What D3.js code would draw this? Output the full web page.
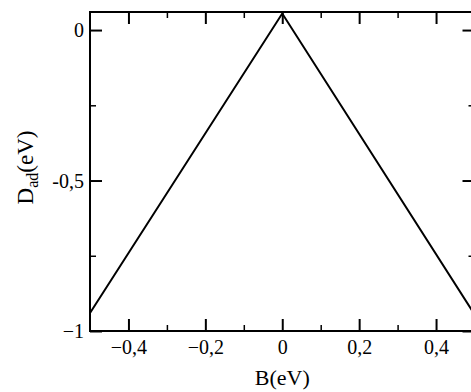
<!DOCTYPE html>
<html>
<head>
<meta charset="utf-8">
<script src="https://cdn.jsdelivr.net/npm/d3@7"></script>
<style>
  html, body { margin: 0; padding: 0; background: #fff; overflow: hidden; }
  svg { display: block; }
</style>
</head>
<body>
<svg id="chart" width="471" height="392"></svg>
<script>
// Adsorption energy D_ad as a function of B
const bValues = [-0.5, 0, 0.5];
const dValues = [-0.94, 0.055, -0.945];

const xMajorTicks = [-0.4, -0.2, 0, 0.2, 0.4];
const xMinorTicks = [-0.3, -0.1, 0.1, 0.3];
const xTickLabels = ["\u22120,4", "\u22120,2", "0", "0,2", "0,4"];

const yMajorTicks = [0, -0.5, -1];
const yMinorTicks = [-0.25, -0.75];
const yTickLabels = ["0", "-0,5", "\u22121"];

const xDomain = [-0.5, 0.5];
const yDomain = [-1, 0.06];

const SERIF = "'Liberation Serif', 'Times New Roman', 'DejaVu Serif', serif";
const frame = { left: 90, right: 474.5, top: 12, bottom: 331 };

const svg = d3.select("#chart");

const x = d3.scaleLinear().domain(xDomain).range([frame.left, frame.right]);
const y = d3.scaleLinear().domain(yDomain).range([frame.bottom, frame.top]);

const majorLen = 12, minorLen = 6;

function tickAxis(axisGen, transform, ticks, len, labels, sw) {
  const g = svg.append("g").attr("transform", transform)
    .call(axisGen.tickValues(ticks).tickSize(len).tickSizeOuter(0)
      .tickFormat(labels ? (d, i) => labels[i] : ""));
  g.attr("font-family", SERIF).attr("font-size", 20);
  g.select(".domain").remove();
  g.selectAll(".tick line").attr("stroke", "#000").attr("stroke-width", sw);
  g.selectAll(".tick text").attr("fill", "#000").style("font-family", SERIF).style("font-size", "20px");
  return g;
}

// Bottom axis (ticks point inward) with labels
const gb = tickAxis(d3.axisBottom(x), `translate(0,${frame.bottom})`, xMajorTicks, -majorLen, xTickLabels, 2);
gb.selectAll(".tick text").attr("y", 23).attr("dy", 0).attr("text-anchor", "middle");
tickAxis(d3.axisBottom(x), `translate(0,${frame.bottom})`, xMinorTicks, -minorLen, null, 1.5);

// Top axis mirrors bottom ticks
tickAxis(d3.axisTop(x), `translate(0,${frame.top})`, xMajorTicks, -majorLen, null, 2);
tickAxis(d3.axisTop(x), `translate(0,${frame.top})`, xMinorTicks, -minorLen, null, 1.5);

// Left axis with labels
const gl = tickAxis(d3.axisLeft(y), `translate(${frame.left},0)`, yMajorTicks, -majorLen, yTickLabels, 2);
gl.selectAll(".tick text").attr("x", -6).attr("dy", "0.34em").attr("text-anchor", "end");
tickAxis(d3.axisLeft(y), `translate(${frame.left},0)`, yMinorTicks, -minorLen, null, 1.5);

// Right axis mirrors left ticks
tickAxis(d3.axisRight(y), `translate(${frame.right},0)`, yMajorTicks, -majorLen, null, 2);
tickAxis(d3.axisRight(y), `translate(${frame.right},0)`, yMinorTicks, -minorLen, null, 1.5);

// Plot frame
svg.append("rect")
  .attr("x", frame.left).attr("y", frame.top)
  .attr("width", frame.right - frame.left).attr("height", frame.bottom - frame.top)
  .attr("fill", "none").attr("stroke", "#000").attr("stroke-width", 2);

// Data line
const pts = bValues.map((b, i) => [b, dValues[i]]);
svg.append("path")
  .datum(pts)
  .attr("fill", "none").attr("stroke", "#000").attr("stroke-width", 2)
  .attr("stroke-linejoin", "miter")
  .attr("d", d3.line().x(d => x(d[0])).y(d => y(d[1])));

// Axis titles
svg.append("text")
  .attr("x", x(0)).attr("y", 385)
  .attr("text-anchor", "middle")
  .style("font-family", SERIF).style("font-size", "22px")
  .text("B(eV)");

const yt = svg.append("text")
  .attr("transform", `translate(33,${(frame.top + frame.bottom) / 2 - 4}) rotate(-90)`)
  .attr("text-anchor", "middle")
  .style("font-family", SERIF).style("font-size", "23px");
yt.append("tspan").text("D");
yt.append("tspan").attr("dy", 5).style("font-size", "16px").text("ad");
yt.append("tspan").attr("dy", -5).text("(eV)");
</script>
</body>
</html>
